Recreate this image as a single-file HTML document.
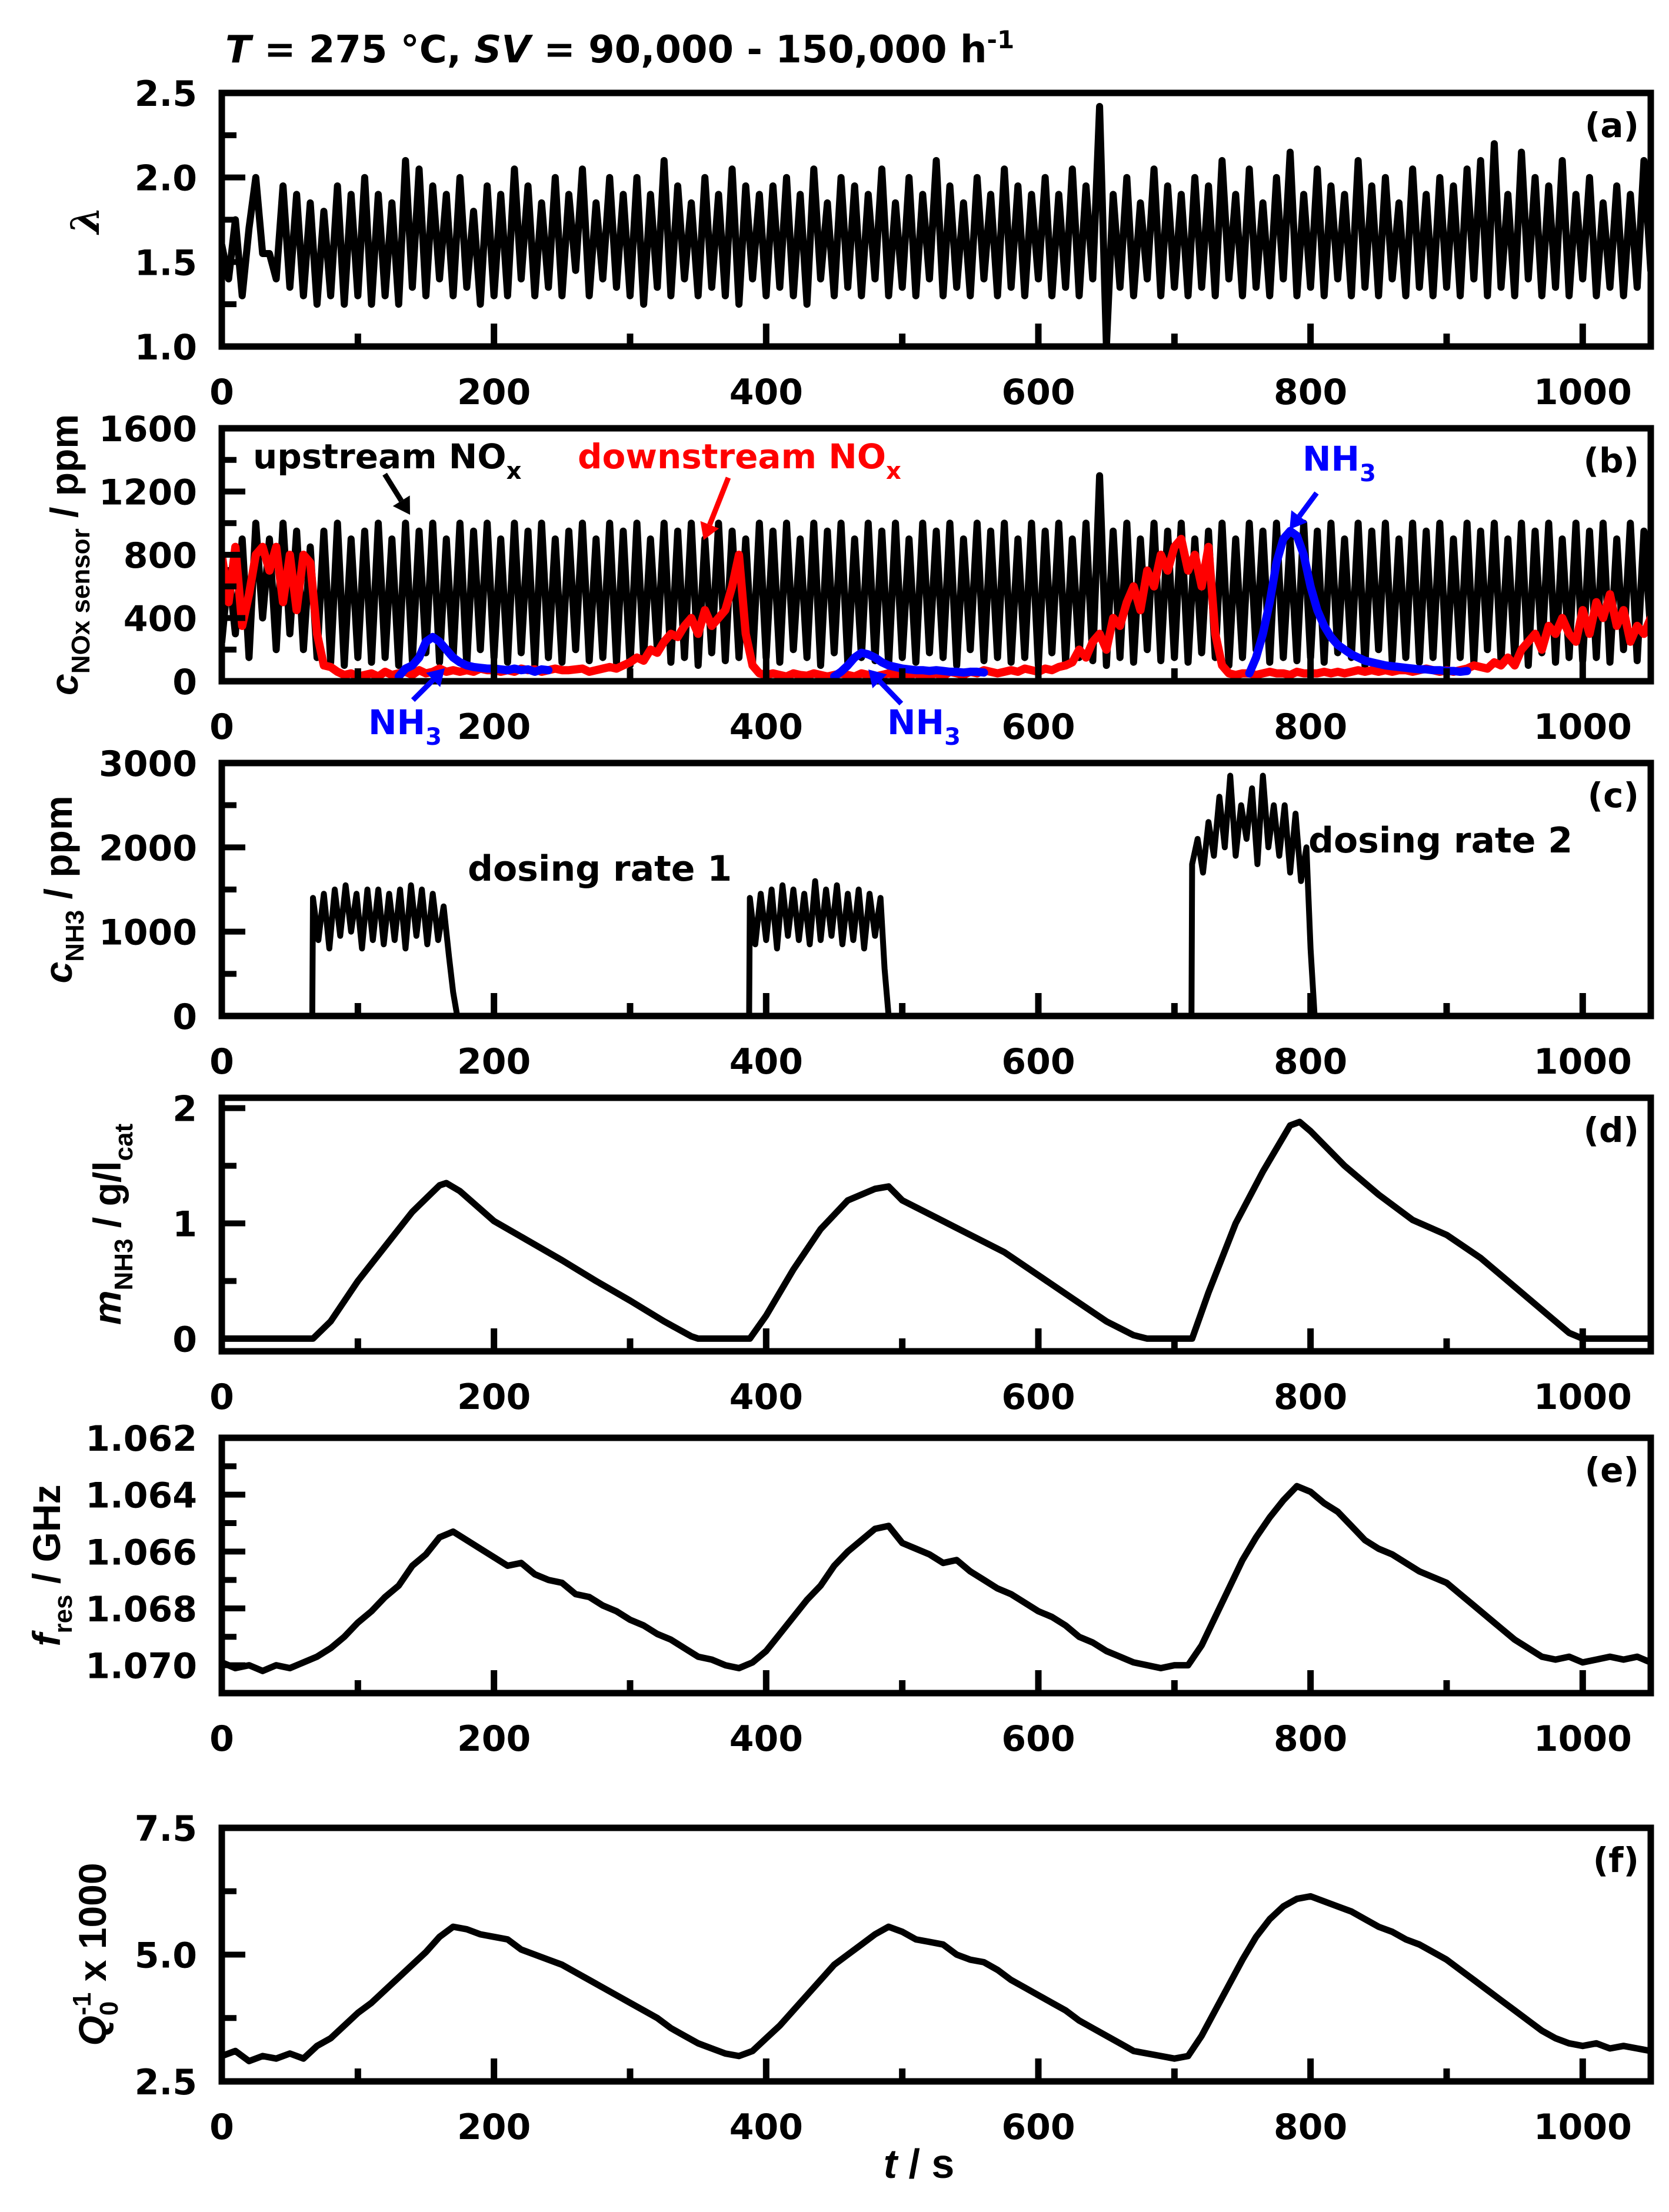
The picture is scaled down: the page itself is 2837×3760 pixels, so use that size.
<!DOCTYPE html>
<html><head><meta charset="utf-8"><style>
html,body{margin:0;padding:0;background:#fff}
svg{display:block}
text{font-family:"DejaVu Sans","Liberation Sans",sans-serif;font-weight:bold}
.yt{font-family:"Liberation Sans",sans-serif;font-weight:bold}
</style></head><body>
<svg id="chart" xmlns="http://www.w3.org/2000/svg" width="2837" height="3760" viewBox="0 0 2837 3760">
<rect width="2837" height="3760" fill="#fff"/>
<text x="383" y="106" font-size="64"><tspan font-style="italic">T</tspan> = 275 °C, <tspan font-style="italic">SV</tspan> = 90,000 - 150,000 h<tspan dy="-24" font-size="42">-1</tspan></text>
<g id="plots"></g>
<text x="1562" y="3702" font-size="70" text-anchor="middle" class="yt"><tspan font-style="italic">t</tspan> / s</text>
</svg>
<script>
// ---- data ----
const lambdaStart = 0, lambdaStep = 5;
const lambdaValues = [1.6,1.4,1.75,1.3,1.7,2.0,1.55,1.55,1.4,1.95,1.35,1.9,1.3,1.85,1.25,1.8,1.3,1.95,1.25,1.9,1.3,
2.0,1.25,1.9,1.3,1.85,1.25,2.1,1.35,2.05,1.3,1.95,1.4,1.9,1.3,2.0,1.35,1.8,1.25,1.95,1.3,
1.9,1.3,2.05,1.4,1.95,1.3,1.85,1.35,2.0,1.3,1.9,1.45,2.05,1.3,1.85,1.4,2.0,1.35,1.9,1.3,
2.0,1.25,1.9,1.35,2.1,1.3,1.95,1.4,1.85,1.3,2.0,1.35,1.9,1.3,2.05,1.25,1.95,1.4,1.9,1.3,
1.95,1.35,2.0,1.3,1.9,1.25,2.05,1.4,1.85,1.3,2.0,1.35,1.95,1.3,1.9,1.4,2.05,1.3,1.85,1.35,
2.0,1.3,1.9,1.4,2.1,1.3,1.95,1.35,1.85,1.3,2.0,1.4,1.9,1.3,2.05,1.35,1.95,1.3,1.9,1.4,
2.0,1.3,1.9,1.35,2.05,1.3,1.95,1.4,2.42,1.0,1.9,1.35,2.0,1.3,1.85,1.4,2.05,1.3,1.95,1.35,
1.9,1.3,2.0,1.35,1.95,1.3,2.1,1.4,1.9,1.3,2.05,1.35,1.85,1.3,2.0,1.4,2.15,1.3,1.9,1.35,
2.05,1.3,1.95,1.4,1.9,1.3,2.1,1.35,1.95,1.3,2.0,1.4,1.85,1.3,2.05,1.35,1.9,1.3,2.0,1.35,
1.95,1.3,2.05,1.4,2.1,1.3,2.2,1.35,1.9,1.3,2.15,1.4,2.0,1.3,1.95,1.35,2.1,1.3,1.9,1.4,
2.0,1.3,1.85,1.35,1.95,1.3,1.9,1.35,2.1,1.45];
const upNoxValues = [250,700,300,900,150,1000,400,900,200,1000,300,950,200,850,150,950,120,1000,100,900,150,
950,120,1000,150,900,100,1000,130,950,180,1000,120,900,150,1000,100,950,200,1000,150,
900,120,1000,180,950,100,1000,150,900,120,950,200,1000,130,900,150,1000,120,950,100,
1000,150,900,200,1000,120,950,150,1000,100,900,180,1000,130,950,150,900,120,1000,150,
950,120,1000,200,900,150,1000,100,950,180,1000,120,900,150,1000,130,950,100,1000,150,
900,120,1000,180,950,150,1000,100,900,200,1000,130,950,150,1000,120,900,150,1000,100,
950,180,1000,120,900,150,1000,130,1300,100,950,150,1000,120,900,200,1000,130,950,150,
1000,120,900,180,950,150,1000,100,900,150,1000,200,950,120,1000,150,900,130,1000,150,
950,120,1000,180,900,150,1000,100,950,200,1000,130,900,150,1000,120,950,150,1000,100,
900,150,1000,120,950,200,1000,130,900,150,1000,100,950,180,1000,120,900,150,1000,130,
950,150,1000,120,900,200,1000,130,950,300];
const downNoxValues = [800,500,850,350,550,800,850,700,850,500,800,450,800,750,300,100,90,60,40,50,30,
40,50,30,60,40,50,60,40,70,50,60,80,60,70,60,70,60,80,70,70,
60,70,60,80,70,75,60,70,80,70,70,75,80,60,70,80,90,80,100,120,
150,130,200,180,250,300,280,350,400,300,450,350,400,450,600,800,300,100,50,40,
50,40,30,50,40,35,50,40,30,40,50,40,30,50,40,30,40,50,40,30,
40,50,30,40,50,30,60,50,40,60,50,70,60,50,60,70,60,80,70,60,
80,70,90,100,120,200,150,250,300,200,400,350,500,600,450,700,600,800,700,850,
900,700,800,600,850,300,100,50,40,50,50,40,50,60,50,50,40,60,50,50,
50,60,50,60,50,60,70,60,70,60,70,60,70,70,60,70,80,70,60,70,
60,70,80,100,90,80,120,100,150,100,200,250,300,200,350,300,400,300,250,450,
300,500,400,550,350,450,250,350,300,400];
const nh3SensorStarts = [130, 450, 755];
const nh3Sensor1 = [30,80,100,150,250,280,250,200,150,120,100,90,85,80,80,75,70,80,70,75,60,75,70];
const nh3Sensor2 = [30,60,100,150,180,170,150,120,100,90,80,75,70,70,65,70,65,60,60,55,60,60,55];
const nh3Sensor3 = [50,150,300,500,750,900,950,920,800,600,450,350,280,230,200,170,150,130,120,110,100,95,90,85,80,75,75,70,70,65,65,60,65];
const cnh3Starts = [67, 388, 713];
const cnh3Block1 = [1400,900,1450,800,1500,950,1550,1000,1450,800,1500,900,1500,850,1450,900,1500,800,1550,950,1500,850,1450,900,1300,700];
const cnh3Block2 = [1400,850,1450,900,1500,800,1550,950,1500,900,1450,850,1600,900,1500,950,1550,850,1450,900,1500,800,1450,950,1400];
const cnh3Block3 = [1800,2100,1700,2300,1900,2600,2000,2850,1900,2500,2100,2700,1800,2850,2000,2500,1900,2500,1700,2400,1600,2000];
const mTimes = [0,67,80,100,120,140,160,165,175,200,225,250,275,300,325,345,350,388,400,420,440,460,480,490,500,525,550,575,600,625,650,670,680,713,725,745,765,785,792,800,825,850,875,900,925,950,975,990,1000,1050];
const mValues = [0,0,0.15,0.5,0.8,1.1,1.33,1.35,1.28,1.02,0.85,0.68,0.5,0.33,0.15,0.02,0,0,0.2,0.6,0.95,1.2,1.3,1.32,1.2,1.05,0.9,0.75,0.55,0.35,0.15,0.03,0,0,0.4,1.0,1.45,1.85,1.88,1.8,1.5,1.25,1.03,0.9,0.7,0.45,0.2,0.05,0,0];
const fStep = 10;
const fValues = [1.0699,1.0701,1.0700,1.0702,1.0700,1.0701,1.0699,
1.0697,1.0694,1.0690,1.0685,1.0681,1.0676,1.0672,1.0665,1.0661,1.0655,1.0653,
1.0656,1.0659,1.0662,1.0665,1.0664,1.0668,1.0670,1.0671,1.0675,1.0676,1.0679,1.0681,1.0684,1.0686,1.0689,1.0691,1.0694,1.0697,1.0698,1.0700,1.0701,
1.0699,1.0695,1.0689,1.0683,1.0677,1.0672,1.0665,1.0660,1.0656,1.0652,
1.0651,
1.0657,1.0659,1.0661,1.0664,1.0663,1.0667,1.0670,1.0673,1.0675,1.0678,1.0681,1.0683,1.0686,1.0690,1.0692,1.0695,1.0697,1.0699,1.0700,1.0701,1.0700,
1.0700,1.0693,1.0683,1.0673,1.0663,1.0655,1.0648,1.0642,1.0637,1.0639,
1.0643,1.0646,1.0651,1.0656,1.0659,1.0661,1.0664,1.0667,1.0669,1.0671,1.0675,1.0679,1.0683,1.0687,1.0691,1.0694,1.0697,1.0698,1.0697,1.0699,1.0698,1.0697,1.0698,1.0697,1.0699];
const qValues = [3.0,3.1,2.9,3.0,2.95,3.05,2.95,
3.2,3.35,3.6,3.85,4.05,4.3,4.55,4.8,5.05,5.35,5.55,
5.5,5.4,5.35,5.3,5.1,5.0,4.9,4.8,4.65,4.5,4.35,4.2,4.05,3.9,3.75,3.55,3.4,3.25,3.15,3.05,3.0,
3.1,3.35,3.6,3.9,4.2,4.5,4.8,5.0,5.2,5.4,
5.55,
5.45,5.3,5.25,5.2,5.0,4.9,4.85,4.7,4.5,4.35,4.2,4.05,3.9,3.7,3.55,3.4,3.25,3.1,3.05,3.0,2.95,
3.0,3.4,3.9,4.4,4.9,5.35,5.7,5.95,6.1,6.15,
6.05,5.95,5.85,5.7,5.55,5.45,5.3,5.2,5.05,4.9,4.7,4.5,4.3,4.1,3.9,3.7,3.5,3.35,3.25,3.2,3.25,3.15,3.2,3.15,3.1];
const xTickLabels = ["0","200","400","600","800","1000"];

// ---- layout ----
const NS = "http://www.w3.org/2000/svg";
const X0 = 377, X1 = 2806, XMAX = 1050;
const xs = t => X0 + (X1 - X0) * t / XMAX;
const root = document.getElementById('plots');
function el(tag, attrs, parent) {
  const e = document.createElementNS(NS, tag);
  for (const k in attrs) e.setAttribute(k, attrs[k]);
  (parent || root).appendChild(e);
  return e;
}
const panels = {
  a: {top:158, bot:589, min:1.0, max:2.5, major:[1.0,1.5,2.0,2.5], minor:[1.25,1.75,2.25], fmt:v=>v.toFixed(1)},
  b: {top:728, bot:1158, min:0, max:1600, major:[0,400,800,1200,1600], minor:[200,600,1000,1400], fmt:v=>String(v)},
  c: {top:1297, bot:1727, min:0, max:3000, major:[0,1000,2000,3000], minor:[500,1500,2500], fmt:v=>String(v)},
  d: {top:1866, bot:2297, min:-0.11, max:2.09, major:[0,1,2], minor:[0.5,1.5], fmt:v=>String(v)},
  e: {top:2444, bot:2878, min:1.07098, max:1.062, major:[1.062,1.064,1.066,1.068,1.070], minor:[1.063,1.065,1.067,1.069], fmt:v=>v.toFixed(3)},
  f: {top:3107, bot:3538, min:2.5, max:7.5, major:[2.5,5.0,7.5], minor:[3.75,6.25], fmt:v=>v.toFixed(1)}
};
function ys(p, v) { return p.bot - (p.bot - p.top) * (v - p.min) / (p.max - p.min); }

function drawLine(p, times, vals, color, w, name) {
  let d = '';
  for (let i = 0; i < vals.length; i++) d += (i ? 'L' : 'M') + xs(times[i]).toFixed(1) + ',' + ys(p, vals[i]).toFixed(1);
  const path = el('path', {d: d, fill: 'none', stroke: color, 'stroke-width': w, 'stroke-linejoin': 'round', 'stroke-linecap': 'round'}, p.g);
  
  
}
function stepTimes(start, step, n) { const t = []; for (let i = 0; i < n; i++) t.push(start + i * step); return t; }

for (const key in panels) {
  const p = panels[key];
  const g = el('g', {});
  
  
  p.g = g;
  const clip = el('clipPath', {id: 'clip-' + key}, g);
  el('rect', {x: X0, y: p.top, width: X1 - X0, height: p.bot - p.top}, clip);
  p.data = el('g', {'clip-path': 'url(#clip-' + key + ')'}, g);
  
  
  p.major.forEach(v => {
    const y = ys(p, v);
    const t = el('line', {x1: X0, x2: X0 + 40, y1: y, y2: y, stroke: '#000', 'stroke-width': 10}, g);
    
    
    const lb = el('text', {x: 335, y: y + 22, 'font-size': 60, 'text-anchor': 'end'}, g);
    lb.textContent = p.fmt(v);
    
    
  });
  p.minor.forEach(v => {
    const y = ys(p, v);
    const t = el('line', {x1: X0, x2: X0 + 25, y1: y, y2: y, stroke: '#000', 'stroke-width': 10}, g);
    
    
  });
  for (let tv = 100; tv < XMAX; tv += 100) {
    const major = tv % 200 === 0;
    const t = el('line', {x1: xs(tv), x2: xs(tv), y1: p.bot, y2: p.bot - (major ? 39 : 22), stroke: '#000', 'stroke-width': 11}, g);
    
    
  }
  xTickLabels.forEach(s => {
    const lb = el('text', {x: xs(+s), y: p.bot + 98, 'font-size': 60, 'text-anchor': 'middle'}, g);
    lb.textContent = s;
    
    
  });
  const fr = el('rect', {x: X0, y: p.top, width: X1 - X0, height: p.bot - p.top, fill: 'none', stroke: '#000', 'stroke-width': 11}, g);
  
  
  const pl = el('text', {x: 2786, y: p.top + 75, 'font-size': 58, 'text-anchor': 'end'}, g);
  pl.textContent = '(' + key + ')';
  
  
}
const pa = panels.a; pa.g = pa.data;
drawLine(pa, stepTimes(lambdaStart, lambdaStep, lambdaValues.length), lambdaValues, '#000', 12, 'lambda-line');
const pb = panels.b; pb.g = pb.data;
drawLine(pb, stepTimes(0, 5, upNoxValues.length), upNoxValues, '#000', 12, 'upstream-nox-line');
drawLine(pb, stepTimes(0, 5, downNoxValues.length), downNoxValues, '#ff0000', 14, 'downstream-nox-line');
[nh3Sensor1, nh3Sensor2, nh3Sensor3].forEach((arr, i) => drawLine(pb, stepTimes(nh3SensorStarts[i], 5, arr.length), arr, '#0000ff', 14, 'nh3-sensor-line'));
const pc = panels.c; pc.g = pc.data;
{
  const blocks = [cnh3Block1, cnh3Block2, cnh3Block3];
  let T = [0], V = [0];
  blocks.forEach((b, i) => {
    const s = cnh3Starts[i];
    T.push(s - 0.5); V.push(0);
    b.forEach((v, j) => { T.push(s + j * 4); V.push(v); });
    const e = s + (b.length - 1) * 4;
    T.push(e + 3); V.push(b[b.length - 1] * 0.4);
    T.push(e + 6); V.push(0);
  });
  T.push(1050); V.push(0);
  drawLine(pc, T, V, '#000', 10, 'nh3-dosing-line');
}
const pd = panels.d; pd.g = pd.data;
drawLine(pd, mTimes, mValues, '#000', 11, 'nh3-mass-line');
const pe = panels.e; pe.g = pe.data;
drawLine(pe, stepTimes(0, fStep, fValues.length), fValues, '#000', 11, 'resonance-frequency-line');
const pf = panels.f; pf.g = pf.data;
drawLine(pf, stepTimes(0, 10, qValues.length), qValues, '#000', 11, 'inverse-q-line');

function txt(x, y, s, size, color, name, anchor) {
  const t = el('text', {x: x, y: y, 'font-size': size, fill: color, 'text-anchor': anchor || 'start'});
  t.innerHTML = s;
  
  
  return t;
}
function arrow(x1, y1, x2, y2, color, name) {
  const ang = Math.atan2(y2 - y1, x2 - x1), L = 28, W = 17;
  const bx = x2 - L * Math.cos(ang), by = y2 - L * Math.sin(ang);
  const g = el('g', {});
  
  
  el('line', {x1: x1, y1: y1, x2: bx, y2: by, stroke: color, 'stroke-width': 9}, g);
  el('polygon', {points: `${x2},${y2} ${bx + W * Math.sin(ang)},${by - W * Math.cos(ang)} ${bx - W * Math.sin(ang)},${by + W * Math.cos(ang)}`, fill: color}, g);
}
txt(430, 796, 'upstream NO<tspan dy="18" font-size="40">x</tspan>', 58, '#000', 'upstream-nox-label');
arrow(654, 806, 697, 875, '#000', 'upstream-nox-arrow');
txt(982, 796, 'downstream NO<tspan dy="18" font-size="40">x</tspan>', 58, '#ff0000', 'downstream-nox-label');
arrow(1238, 812, 1196, 918, '#ff0000', 'downstream-nox-arrow');
txt(2214, 800, 'NH<tspan dy="18" font-size="40">3</tspan>', 58, '#0000ff', 'nh3-label-3');
arrow(2238, 838, 2192, 900, '#0000ff', 'nh3-arrow-3');
txt(626, 1248, 'NH<tspan dy="18" font-size="40">3</tspan>', 58, '#0000ff', 'nh3-label-1');
arrow(702, 1190, 756, 1136, '#0000ff', 'nh3-arrow-1');
txt(1508, 1248, 'NH<tspan dy="18" font-size="40">3</tspan>', 58, '#0000ff', 'nh3-label-2');
arrow(1532, 1196, 1476, 1138, '#0000ff', 'nh3-arrow-2');
txt(795, 1497, 'dosing rate 1', 60, '#000', 'dosing-rate-1-label');
txt(2224, 1449, 'dosing rate 2', 60, '#000', 'dosing-rate-2-label');

function ytitle(cx, cy, html, name) {
  const t = el('text', {transform: `translate(${cx},${cy}) rotate(-90)`, 'font-size': 66, 'text-anchor': 'middle', class: 'yt'});
  t.innerHTML = html;
  
  
}
ytitle(168, 374, '<tspan font-style="italic" font-family="DejaVu Serif">λ</tspan>', 'y-axis-title-a');
ytitle(132, 943, '<tspan font-style="italic">c</tspan><tspan dy="20" font-size="44">NOx sensor</tspan><tspan dy="-20"> / ppm</tspan>', 'y-axis-title-b');
ytitle(122, 1512, '<tspan font-style="italic">c</tspan><tspan dy="20" font-size="44">NH3</tspan><tspan dy="-20"> / ppm</tspan>', 'y-axis-title-c');
ytitle(205, 2081, '<tspan font-style="italic">m</tspan><tspan dy="20" font-size="44">NH3</tspan><tspan dy="-20"> / g/l</tspan><tspan dy="20" font-size="44">cat</tspan>', 'y-axis-title-d');
ytitle(102, 2661, '<tspan font-style="italic">f</tspan><tspan dy="20" font-size="44">res</tspan><tspan dy="-20"> / GHz</tspan>', 'y-axis-title-e');
ytitle(180, 3322, '<tspan font-style="italic">Q</tspan><tspan dy="20" font-size="44">0</tspan><tspan dy="-46" dx="-24" font-size="44">-1</tspan><tspan dy="26"> x 1000</tspan>', 'y-axis-title-f');
</script>
</body></html>
